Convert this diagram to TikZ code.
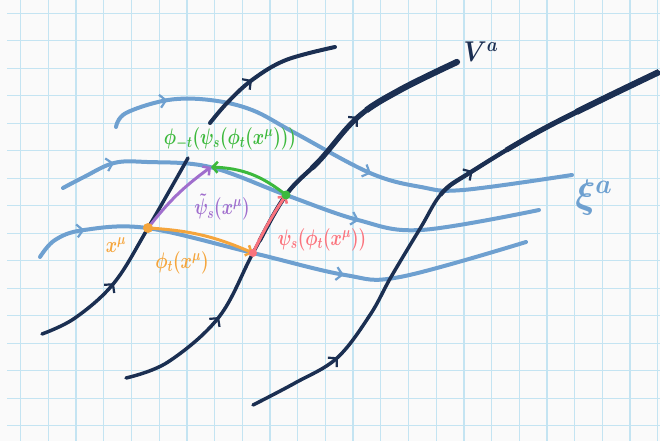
\documentclass[tikz,border=0pt]{standalone}
\usepackage{amsmath}
\usepackage{tikz}
\usetikzlibrary{arrows.meta,decorations.markings}
\definecolor{flownavy}{RGB}{27,47,82}
\definecolor{flowblue}{RGB}{110,160,208}
\definecolor{gridcyan}{RGB}{196,228,242}
\definecolor{paperwhite}{RGB}{250,250,250}
\definecolor{phiorange}{RGB}{245,165,60}
\definecolor{psipink}{RGB}{250,115,125}
\definecolor{backgreen}{RGB}{60,185,60}
\definecolor{tildepurple}{RGB}{160,110,205}

\begin{document}
\begin{tikzpicture}[x=1pt,y=-1pt,
  vline/.style={flownavy,line width=3.5pt,line cap=round},
  bline/.style={flowblue,line width=4pt,line cap=round},
  thicken/.style={flownavy,line cap=butt,dash pattern=on 0pt off #1pt on 3000pt},
  tag/.style={font=\fontsize{17}{20}\selectfont\boldmath,inner sep=0pt,yscale=1.3},
  push/.style={line width=3pt,line cap=round,-{Straight Barb[length=5pt,width=11pt,line width=2.5pt]}},
  midtip/.style={postaction={decorate,decoration={markings,
      mark=at position #1 with {\arrow{Straight Barb[length=6pt,width=13pt,line width=2.2pt]}}}}}]
  % Paper
  \fill[paperwhite] (0,0) rectangle (660,441);
  \useasboundingbox (0,0) rectangle (660,441);
  \foreach \i in {0,...,23}
    \draw[gridcyan, line width=1.3pt] ({20.7+27.7*\i},0) -- ({20.7+27.7*\i},441);
  \foreach \j in {0,...,15}
    \draw[gridcyan, line width=1.3pt] (7,{13.3+27.5*\j}) -- (660,{13.3+27.5*\j});
  % xi^a flow lines
  \draw[bline, midtip=0.126, midtip=0.58] plot[smooth, tension=0.6] coordinates {(116,127) (126,113) (168,100) (210,100) (252,110) (295,133) (370,173) (421,187) (463,190) (572,175)};
  \draw[bline, midtip=0.115, midtip=0.63] plot[smooth, tension=0.6] coordinates {(63,188) (84,177) (114,163) (147,162) (210,167) (286,195) (358,220) (421,230) (539,210)};
  \draw[bline, midtip=0.107, midtip=0.63] plot[smooth, tension=0.6] coordinates {(40,257) (55,240) (84,230) (147,228) (253,253) (345,275) (400,277) (526,242)};
  % V^a flow lines
  \draw[vline, midtip=0.38] plot[smooth, tension=0.6] coordinates {(42,334) (75,318) (114,283) (148,228) (188,158)};
  \draw[vline, line width=4pt, midtip=0.40] plot[smooth, tension=0.6] coordinates {(210,123) (227,103) (252,80) (286,60) (335,47)};
  \draw[vline, midtip=0.24, midtip=0.76] plot[smooth, tension=0.6] coordinates {(126,378) (168,362) (219,317) (253,253) (286,195) (320,160) (358,117) (400,90) (457,62)};
  \foreach \w/\l in {4.3/200, 5.2/290, 6.2/370}
    \draw[thicken=\l, line width=\w pt] plot[smooth, tension=0.6] coordinates {(126,378) (168,362) (219,317) (253,253) (286,195) (320,160) (358,117) (400,90) (457,62)};
  \fill[flownavy] (457,62) circle (3.1pt);
  \draw[vline, midtip=0.18, midtip=0.61] plot[smooth, tension=0.6] coordinates {(253,405) (295,383) (337,358) (370,315) (391,277) (421,227) (442,193) (471,172) (547,127) (659,72)};
  \foreach \w/\l in {4.3/290, 5.2/370, 6.2/450}
    \draw[thicken=\l, line width=\w pt] plot[smooth, tension=0.6] coordinates {(253,405) (295,383) (337,358) (370,315) (391,277) (421,227) (442,193) (471,172) (547,127) (659,72)};
  % Points
  \coordinate (xm) at (148,228);
  \coordinate (ps) at (253,253);
  \coordinate (pg) at (286,195);
  \coordinate (pb) at (211,167);
  % Pushes along the flows
  \draw[push, phiorange] (xm) to[bend left=10] (ps);
  \draw[push, psipink] (ps) to[bend left=4] (pg);
  \draw[push, backgreen] (pg) to[bend right=18] (pb);
  \draw[push, tildepurple] (xm) to[bend left=8] (pb);
  \fill[phiorange] (xm) circle (5pt);
  \fill[psipink] (ps) circle (4pt);
  \fill[backgreen] (pg) circle (4.5pt);
  % Labels
  \node[tag, backgreen] (lback) at (230,139) {$\phi_{-t}(\psi_s(\phi_t(x^\mu)))$};
  \node[tag, tildepurple] (ltilde) at (222,207) {$\tilde{\psi}_s(x^\mu)$};
  \node[tag, psipink] (lpsi) at (322,240) {$\psi_s(\phi_t(x^\mu))$};
  \node[tag, phiorange] (lx) at (116,245) {$x^\mu$};
  \node[tag, phiorange] (lphi) at (182,263) {$\phi_t(x^\mu)$};
  \node[font=\fontsize{24}{28}\selectfont\boldmath, inner sep=0pt, yscale=1.15, flownavy] (lv) at (481,52) {$V^a$};
  \node[font=\fontsize{24}{28}\selectfont\boldmath, inner sep=0pt, xscale=1.5, yscale=1.6, flowblue] (lxi) at (594,198) {$\xi^a$};
\end{tikzpicture}
\end{document}
